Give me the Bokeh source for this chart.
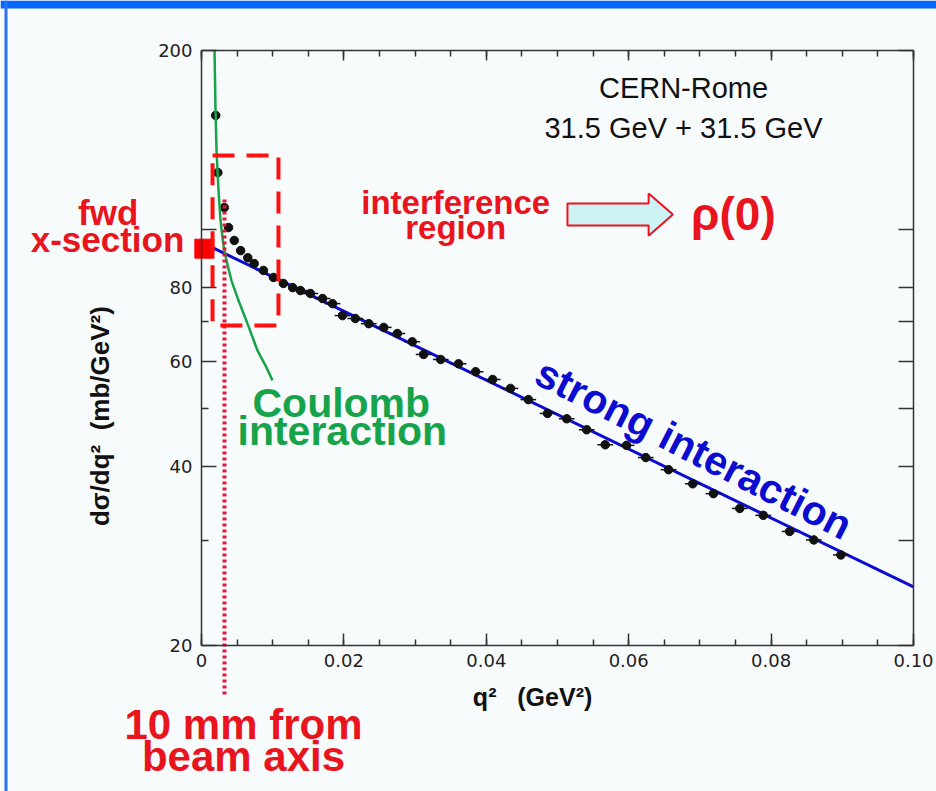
import math
from bokeh.plotting import figure
from bokeh.models import (Range1d, LinearAxis, LogAxis, FixedTicker, Label,
                          BoxAnnotation, PolyAnnotation, ColumnDataSource)
from bokeh.embed import file_html
from bokeh.resources import INLINE

# ---------------- data ----------------
Q2 = [0.0020, 0.0023, 0.0032, 0.0038, 0.0046, 0.0055, 0.0065, 0.0074, 0.0087,
      0.0101, 0.0115, 0.0128, 0.0139, 0.0153, 0.0170, 0.0184, 0.0198, 0.0216,
      0.0235, 0.0256, 0.0275, 0.0296, 0.0312, 0.0336, 0.0361, 0.0385, 0.0409,
      0.0434, 0.0459, 0.0486, 0.0513, 0.0541, 0.0567, 0.0597, 0.0624, 0.0656,
      0.0690, 0.0719, 0.0756, 0.0789, 0.0826, 0.0860, 0.0898]
DSIG = [155.6, 124.7, 108.9, 100.8, 95.9, 92.2, 89.7, 87.7, 85.4,
        83.1, 81.2, 79.9, 79.0, 78.1, 76.6, 75.1, 71.7, 70.9,
        69.5, 68.5, 66.9, 64.8, 61.7, 60.5, 59.5, 57.7, 56.0,
        54.1, 51.8, 49.1, 48.1, 46.1, 43.5, 43.4, 41.4, 39.5,
        37.4, 36.0, 34.0, 33.1, 31.1, 30.1, 28.4]
Q2_ERR = [0.0004] * 12 + [0.0011] * 31

COULOMB_Q2 = [0.00183, 0.00197, 0.00211, 0.00239, 0.00267, 0.00309, 0.00351,
              0.00421, 0.00520, 0.00646, 0.00787, 0.00899, 0.00997]
COULOMB_SIG = [200.0, 158.6, 135.8, 116.3, 103.6, 94.0, 88.7,
               82.1, 76.0, 69.5, 62.6, 59.1, 55.8]

STRONG_Q2 = [0.0004, 0.1]
STRONG_SIG = [94.7, 25.1]

FWD_Q2 = [0.0004]
FWD_SIG = [92.9]

BEAM_Q2 = [0.00323, 0.00323]     # 10 mm from beam axis
BEAM_SIG = [112.4, 16.4]
INTERF_Q2 = [0.00155, 0.01081]
INTERF_SIG = [69.0, 133.2]

X_MAJOR = [0.0, 0.02, 0.04, 0.06, 0.08, 0.10]
X_LABELS = ["0", "0.02", "0.04", "0.06", "0.08", "0.10"]
X_MINOR = [round(0.005 * i, 3) for i in range(21)]
Y_MAJOR = [20, 40, 60, 80, 100, 200]
Y_LABELS = ["20", "40", "60", "80", "", "200"]
Y_MINOR = [30, 50, 70]
Y_RIGHT = [20, 30, 40, 50, 60, 70, 80, 100, 200]
X_BOUNDS = (0.0, 0.1)
Y_BOUNDS = (20, 200)

RED = "#e8141e"
GREEN = "#17a34a"
BLUE = "#0c0cd0"
FONT = "Liberation Sans"
TICK_FONT = "DejaVu Sans"
BG = "#f8fbfc"
NB = "\u00a0"

# the frame fills the page; the axes sit at fixed data positions
p = figure(width=936, height=791, x_range=Range1d(-0.02823, 0.10323),
           y_range=Range1d(11.37, 242.7), y_axis_type="log",
           output_backend="svg", toolbar_location=None,
           x_axis_location=None, y_axis_location=None,
           min_border=0, min_border_left=0, min_border_right=0,
           min_border_top=0, min_border_bottom=0,
           background_fill_color=BG, border_fill_color=BG, outline_line_color=None)
p.xgrid.grid_line_color = None
p.ygrid.grid_line_color = None


def style_axis(ax, tick_in, minor_in, show_labels):
    ax.axis_line_color = "#333333"
    ax.axis_line_width = 1.5
    ax.major_tick_line_color = "#333333"
    ax.minor_tick_line_color = "#333333"
    ax.major_tick_line_width = 1.5
    ax.minor_tick_line_width = 1.5
    ax.major_tick_in = tick_in
    ax.major_tick_out = 0
    ax.minor_tick_in = minor_in
    ax.minor_tick_out = 0
    ax.major_label_text_font = TICK_FONT
    ax.major_label_text_font_size = "18px" if show_labels else "0px"
    ax.major_label_text_color = "#222222"


bottom = LinearAxis(ticker=FixedTicker(ticks=X_MAJOR, minor_ticks=X_MINOR),
                    major_label_overrides={t: s for t, s in zip(X_MAJOR, X_LABELS)},
                    fixed_location=Y_BOUNDS[0], bounds=X_BOUNDS, major_label_standoff=8)
style_axis(bottom, 12, 6, True)
p.add_layout(bottom, "below")

top = LinearAxis(ticker=FixedTicker(ticks=X_MAJOR, minor_ticks=X_MINOR),
                 major_label_overrides={t: "" for t in X_MAJOR},
                 fixed_location=Y_BOUNDS[1], bounds=X_BOUNDS)
style_axis(top, 10, 6, False)
p.add_layout(top, "above")

left = LogAxis(ticker=FixedTicker(ticks=Y_MAJOR, minor_ticks=Y_MINOR),
               major_label_overrides={t: s for t, s in zip(Y_MAJOR, Y_LABELS)},
               fixed_location=X_BOUNDS[0], bounds=Y_BOUNDS, major_label_standoff=9)
style_axis(left, 15, 7, True)
p.add_layout(left, "left")

right = LogAxis(ticker=FixedTicker(ticks=Y_RIGHT, minor_ticks=[]),
                major_label_overrides={t: "" for t in Y_RIGHT},
                fixed_location=X_BOUNDS[1], bounds=Y_BOUNDS)
style_axis(right, 15, 0, False)
p.add_layout(right, "right")

# ---------------- page decorations ----------------
p.add_layout(BoxAnnotation(left=0, right=936, top=0, bottom=8, left_units="canvas",
                           right_units="canvas", top_units="canvas", bottom_units="canvas",
                           fill_color="#0066ff", fill_alpha=1, line_color=None))
p.add_layout(BoxAnnotation(left=4, right=7, top=0, bottom=791, left_units="canvas",
                           right_units="canvas", top_units="canvas", bottom_units="canvas",
                           fill_color="#2a72f2", fill_alpha=1, line_color=None))

# ---------------- marks ----------------
src = ColumnDataSource(dict(q=Q2, s=DSIG,
                            q0=[q - e for q, e in zip(Q2, Q2_ERR)],
                            q1=[q + e for q, e in zip(Q2, Q2_ERR)]))
p.line(STRONG_Q2, STRONG_SIG, line_color=BLUE, line_width=3)
p.segment(x0="q0", x1="q1", y0="s", y1="s", source=src, line_color="#111111", line_width=1.5)
p.scatter("q", "s", source=src, size=8.5, color="#111111")
p.line(COULOMB_Q2, COULOMB_SIG, line_color=GREEN, line_width=2.5)

# interference region box
p.add_layout(BoxAnnotation(left=INTERF_Q2[0], right=INTERF_Q2[1],
                           bottom=INTERF_SIG[0], top=INTERF_SIG[1],
                           fill_color=None, fill_alpha=0, line_color="#ff1010",
                           line_alpha=1, line_width=4, line_dash="22 12"))

# 10 mm from beam axis (dotted, continues below the axis)
p.line(BEAM_Q2, BEAM_SIG, line_color="#e3163c", line_width=4, line_dash="3 3")

# forward cross-section marker
p.scatter(FWD_Q2, FWD_SIG, marker="square", size=19, color="#ff0000")

# block arrow interference -> rho(0)
ax0, axh, axt = 0.0514, 0.0628, 0.0662
p.add_layout(PolyAnnotation(xs=[ax0, axh, axh, axt, axh, axh, ax0],
                            ys=[110.6, 110.6, 115.0, 106.0, 97.7, 101.6, 101.6],
                            fill_color="#cdf3f7", fill_alpha=1,
                            line_color=RED, line_alpha=1, line_width=2))


def lab(text, x, y, size, color, bold=True, align="center", angle=0.0, baseline="alphabetic"):
    p.add_layout(Label(x=x, y=y, text=text, text_font=FONT, text_font_size=f"{size}px",
                       text_color=color, text_font_style="bold" if bold else "normal",
                       text_align=align, text_baseline=baseline, angle=angle))


lab("CERN-Rome", 0.0677, 172.7, 29, "#111111", bold=False)
lab("31.5 GeV + 31.5 GeV", 0.0677, 148.4, 29, "#111111", bold=False)
lab("interference", 0.0357, 111.1, 33, RED)
lab("region", 0.0357, 100.8, 33, RED)
lab("ρ(0)", 0.0747, 106.4, 46, RED)
lab("fwd", -0.0131, 107.0, 35, RED)
lab("x-section", -0.0132, 96.4, 35, RED)
lab("Coulomb", 0.00716, 51.2, 41, GREEN, align="left")
lab("interaction", 0.00506, 45.8, 41, GREEN, align="left")
lab("strong interaction", 0.04733, 58.1, 41, BLUE, align="left", angle=-27 * math.pi / 180)
lab("10 mm from", 0.0059, 14.74, 42, RED)
lab("beam axis", 0.0059, 13.02, 42, RED)
lab(f"dσ/dq²{NB}{NB}(mb/GeV²)", -0.01419, 48.6, 26, "#111111", angle=math.pi / 2,
    baseline="middle")
lab(f"q²{NB}{NB}{NB}(GeV²)", 0.0465, 16.36, 25, "#111111")

open("out.html", "w").write(file_html(p, INLINE))
